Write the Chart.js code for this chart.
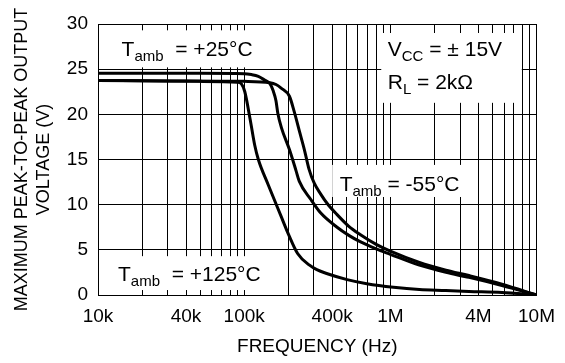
<!DOCTYPE html>
<html>
<head>
<meta charset="utf-8">
<script src="https://cdn.jsdelivr.net/npm/chart.js@4.4.0/dist/chart.umd.min.js"></script>
<style>
html, body { margin: 0; padding: 0; background: #fff; }
#wrap { width: 565px; height: 363px; }
</style>
</head>
<body>
<div id="wrap"><canvas id="chart"></canvas></div>
<script>
// valeurs (frequence en Hz, tension crete-a-crete en V)
const freq_p25 = [1e4, 5e4, 1e5, 1.12e5, 1.25e5, 1.38e5, 1.5e5, 1.58e5, 1.65e5, 1.7e5, 1.8e5, 2.04e5, 2.26e5, 2.38e5, 2.85e5, 3.33e5, 4.32e5, 5.2e5, 6.21e5, 8e5, 1e6, 1.58e6, 2.4e6, 3.45e6, 5.8e6, 1e7];
const volt_p25 = [24.55, 24.55, 24.5, 24.4, 24.2, 23.8, 23.4, 22.6, 21.5, 20.1, 18.5, 16.1, 13.8, 12.6, 10.6, 9.1, 7.5, 6.6, 5.9, 5.1, 4.5, 3.3, 2.5, 1.95, 1.05, 0];

const freq_m55 = [1e4, 3e4, 1e5, 1.5e5, 1.65e5, 1.79e5, 2.04e5, 2.2e5, 2.4e5, 2.58e5, 2.78e5, 3.01e5, 3.33e5, 3.71e5, 4.32e5, 5.2e5, 6.21e5, 8e5, 1e6, 1.58e6, 2.4e6, 3.45e6, 5.8e6, 1e7];
const volt_m55 = [23.75, 23.7, 23.65, 23.5, 23.3, 22.9, 22.0, 20.3, 18.0, 16.1, 13.9, 12.4, 11.2, 10.1, 8.9, 7.6, 6.7, 5.6, 4.85, 3.6, 2.75, 2.15, 1.2, 0];

const freq_p125 = [1e4, 5e4, 9e4, 9.6e4, 1.01e5, 1.1e5, 1.18e5, 1.25e5, 1.46e5, 1.79e5, 2e5, 2.32e5, 2.8e5, 3.14e5, 3.71e5, 5.06e5, 6.9e5, 1.05e6, 1.58e6, 2.4e6, 3.45e6, 5.8e6, 1e7];
const volt_p125 = [23.75, 23.65, 23.55, 23.35, 22.5, 19.4, 16.6, 15.0, 12.2, 8.7, 6.8, 4.6, 3.3, 2.8, 2.35, 1.7, 1.25, 0.85, 0.6, 0.5, 0.4, 0.28, 0];

// ticks de l'axe x
const x_tick_values = [1e4, 4e4, 1e5, 4e5, 1e6, 4e6, 1e7];
const x_tick_labels = ["10k", "40k", "100k", "400k", "1M", "4M", "10M"];
const y_min = 0;
const y_max = 30;
const y_step = 5;

const font_family = "'Liberation Sans', Arial, Helvetica, sans-serif";

// lignes de grille log : 1..9 par decade
const grid_values = [];
for (let e = 4; e < 7; e++) {
    for (let m = 1; m < 10; m++) {
        grid_values.push(m * Math.pow(10, e));
    }
}
grid_values.push(1e7);

const to_points = (xs, ys) => xs.map((x, i) => ({ x: x, y: ys[i] }));

// textes sur fond blanc (positions en unites des axes)
const notes = [
    { box: [1e4, 1.24e5, 25.2, 29.3], at: [1.45e4, 26.5], parts: [["T", 21, 0], ["amb", 15, 5], ["  = +25°C", 21, 0]] },
    { box: [8.7e5, 7.9e6, 21.3, 29.0], at: [9.6e5, 26.5], parts: [["V", 21, 0], ["CC", 15, 5], [" = ± 15V", 21, 0]] },
    { box: [8.7e5, 7.9e6, 21.3, 29.0], at: [9.6e5, 22.8], parts: [["R", 21, 0], ["L", 15, 5], [" = 2kΩ", 21, 0]] },
    { box: [4.0e5, 3.5e6, 10.85, 14.4], at: [4.5e5, 11.5], parts: [["T", 21, 0], ["amb", 15, 5], [" = -55°C", 21, 0]] },
    { box: [1e4, 1.5e5, 0.55, 4.3], at: [1.37e4, 1.5], parts: [["T", 21, 0], ["amb", 15, 5], ["  = +125°C", 21, 0]] },
];

const notes_plugin = {
    id: "notes",
    beforeDatasetsDraw(chart) {
        const { ctx, chartArea, scales } = chart;
        ctx.save();
        ctx.fillStyle = "#fff";
        for (const n of notes) {
            let x0 = Math.max(scales.x.getPixelForValue(n.box[0]), chartArea.left + 1);
            let x1 = Math.min(scales.x.getPixelForValue(n.box[1]), chartArea.right - 1);
            let y0 = scales.y.getPixelForValue(n.box[3]);
            let y1 = scales.y.getPixelForValue(n.box[2]);
            ctx.fillRect(x0, y0, x1 - x0, y1 - y0);
        }
        ctx.fillStyle = "#000";
        ctx.textBaseline = "alphabetic";
        ctx.textAlign = "left";
        for (const n of notes) {
            let x = scales.x.getPixelForValue(n.at[0]);
            const y = scales.y.getPixelForValue(n.at[1]);
            for (const [txt, size, dy] of n.parts) {
                ctx.font = size + "px " + font_family;
                ctx.fillText(txt, x, y + dy);
                x += ctx.measureText(txt).width;
            }
        }
        ctx.restore();
    },
};

const ctx = document.getElementById("chart");

new Chart(ctx, {
    type: "line",
    data: {
        datasets: [
            { label: "+25°C", data: to_points(freq_p25, volt_p25) },
            { label: "-55°C", data: to_points(freq_m55, volt_m55) },
            { label: "+125°C", data: to_points(freq_p125, volt_p125) },
        ],
    },
    options: {
        responsive: true,
        maintainAspectRatio: false,
        animation: false,
        layout: { padding: { top: 24, right: 23, left: 0, bottom: 0 } },
        elements: {
            line: { borderColor: "#000", borderWidth: 3, cubicInterpolationMode: "monotone", fill: false },
            point: { radius: 0 },
        },
        plugins: {
            legend: { display: false },
            tooltip: { enabled: false },
        },
        scales: {
            x: {
                type: "logarithmic",
                min: 1e4,
                max: 1e7,
                afterBuildTicks: (scale) => {
                    scale.ticks = grid_values.map((v) => ({ value: v }));
                },
                afterFit: (scale) => {
                    scale.height = 68;
                },
                ticks: {
                    autoSkip: false,
                    maxRotation: 0,
                    padding: 10,
                    color: "#000",
                    font: { size: 19, family: font_family },
                    callback: (value) => {
                        const i = x_tick_values.findIndex((v) => Math.abs(v - value) < v * 1e-6);
                        return i >= 0 ? x_tick_labels[i] : "";
                    },
                },
                grid: { color: "#000", lineWidth: 1, drawTicks: false },
                border: { color: "#000", width: 1 },
                title: {
                    display: true,
                    text: "FREQUENCY (Hz)",
                    color: "#000",
                    font: { size: 19, family: font_family, lineHeight: 1.2 },
                    padding: { top: 0, bottom: 5 },
                },
            },
            y: {
                min: y_min,
                max: y_max,
                afterFit: (scale) => {
                    scale.width = 98;
                },
                ticks: {
                    stepSize: y_step,
                    padding: 10,
                    color: "#000",
                    font: { size: 19, family: font_family },
                },
                grid: { color: "#000", lineWidth: 1, drawTicks: false },
                border: { color: "#000", width: 1 },
                title: {
                    display: true,
                    text: ["MAXIMUM PEAK-TO-PEAK OUTPUT", "VOLTAGE (V)"],
                    color: "#000",
                    font: { size: 18, family: font_family, lineHeight: 1.17 },
                    padding: { top: 12, bottom: 0 },
                },
            },
        },
    },
    plugins: [notes_plugin],
});
</script>
</body>
</html>
